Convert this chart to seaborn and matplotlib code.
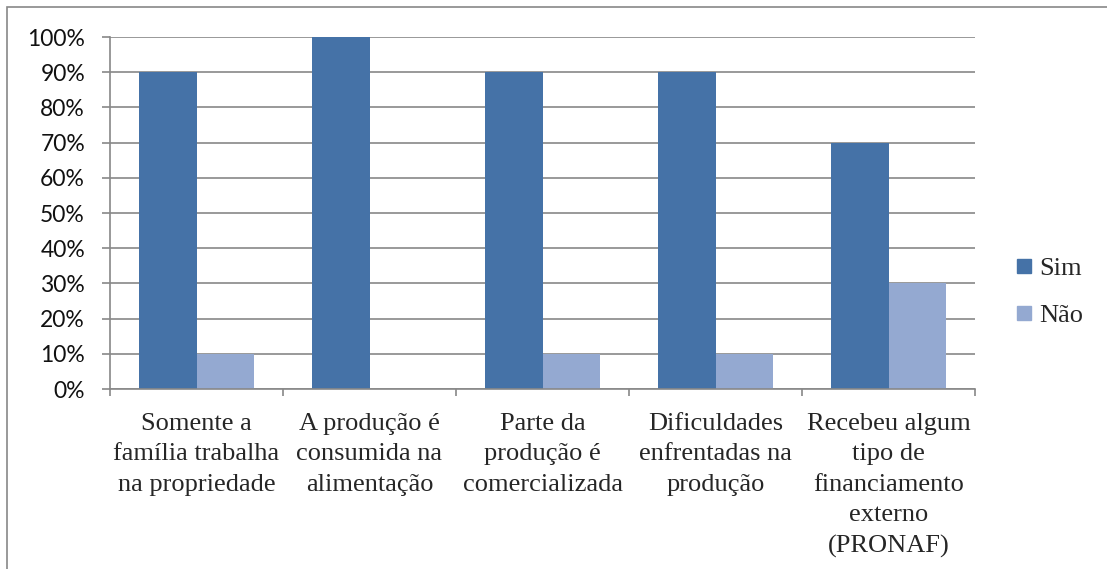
import matplotlib
matplotlib.use("Agg")
import matplotlib.pyplot as plt
from matplotlib.patches import Rectangle
from matplotlib.lines import Line2D
from matplotlib.ticker import PercentFormatter, FixedLocator
import seaborn as sns
import pandas as pd

categorias = ["Somente a\nfamília trabalha\nna propriedade",
              "A produção é\nconsumida na\nalimentação",
              "Parte da\nprodução é\ncomercializada",
              "Dificuldades\nenfrentadas na\nprodução",
              "Recebeu algum\ntipo de\nfinanciamento\nexterno\n(PRONAF)"]
sim = [90, 100, 90, 90, 70]
nao = [10, 0, 10, 10, 30]
series = ["Sim", "Não"]
cores = {"Sim": "#4572A7", "Não": "#94A9D1"}

df = pd.DataFrame({
    "categoria": categorias * 2,
    "valor": sim + nao,
    "serie": ["Sim"] * len(sim) + ["Não"] * len(nao),
})

sns.set_style("white")
fig = plt.figure(figsize=(11.07, 5.69), dpi=100)
ax = fig.add_axes([110 / 1107, 1 - 389 / 569, 865 / 1107, 352 / 569])

sns.barplot(data=df, x="categoria", y="valor", hue="serie", hue_order=series,
            palette=cores, width=0.66, gap=0, saturation=1, linewidth=0,
            ax=ax, legend=False)

ax.set_xlim(-0.5, len(categorias) - 0.5)
ax.set_ylim(0, 100)
ax.set_yticks(range(0, 101, 10))
ax.yaxis.set_major_formatter(PercentFormatter(decimals=0))
ax.yaxis.grid(True, color="#888888", linewidth=1.2)
ax.set_axisbelow(True)
ax.set_xlabel("")
ax.set_ylabel("")

for s in ["top", "right"]:
    ax.spines[s].set_visible(False)
for s in ["left", "bottom"]:
    ax.spines[s].set_color("#888888")
    ax.spines[s].set_linewidth(1.2)

ax.tick_params(axis="y", which="major", left=True, length=6, color="#888888",
               width=1.2, pad=12, labelsize=16.5)
for t in ax.get_yticklabels():
    t.set_fontfamily("Lato")
    t.set_color("#111111")

ax.tick_params(axis="x", which="major", length=0, pad=17)
ax.xaxis.set_minor_locator(FixedLocator([i - 0.5 for i in range(len(categorias) + 1)]))
ax.tick_params(axis="x", which="minor", bottom=True, length=5, color="#888888", width=1.2)
for t in ax.get_xticklabels():
    t.set_fontfamily("Liberation Serif")
    t.set_fontsize(19)
    t.set_verticalalignment("top")
    t.set_linespacing(1.5)

handles = [Line2D([], [], marker="s", linestyle="", markersize=10,
                  markerfacecolor=cores[s], markeredgecolor=cores[s]) for s in series]
fig.legend(handles, series, loc="center left", bbox_to_anchor=(998 / 1107, 1 - 292 / 569),
           frameon=False, handletextpad=0.05, labelspacing=0.9, borderpad=0,
           prop={"family": "Liberation Serif", "size": 19}, handlelength=1.0)

fig.patches.append(Rectangle((7 / 1107, -0.2), 1.5, 1.2 - 7 / 569, transform=fig.transFigure,
                             fill=False, edgecolor="#888888", linewidth=1.2))

fig.savefig("out.png", dpi=100)
